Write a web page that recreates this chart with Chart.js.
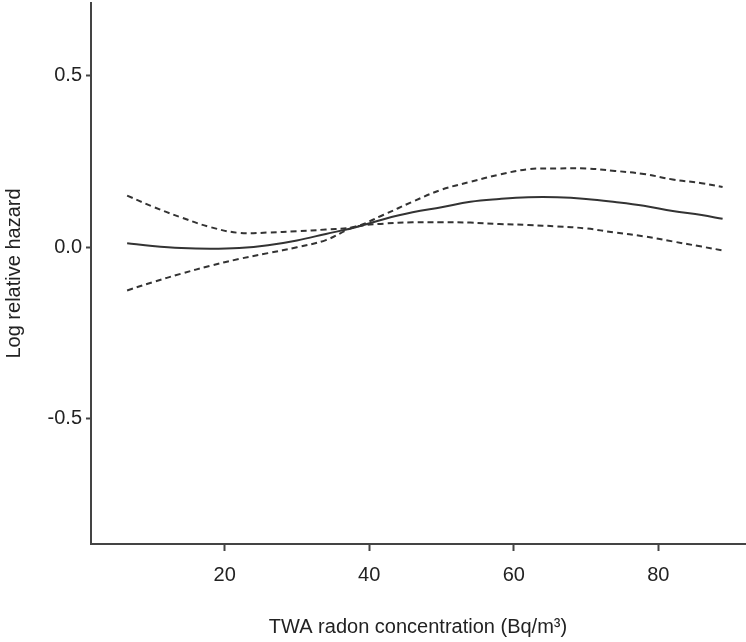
<!DOCTYPE html>
<html>
<head>
<meta charset="utf-8">
<script src="https://cdn.jsdelivr.net/npm/chart.js@4"></script>
<style>
  body { margin: 0; background: #fff; }
  #chart { display: block; }
</style>
</head>
<body>
<canvas id="chart" width="746" height="642"></canvas>
<script>
// radon concentration (Bq/m3)
const radon = [6.5, 10, 14, 18, 22, 26, 30, 34, 38, 42, 46, 50, 54, 58, 62, 66, 70, 74, 78, 82, 86, 88.9];
// log relative hazard, fitted curve
const estimate = [0.012, 0.004, -0.002, -0.004, -0.002, 0.006, 0.020, 0.039, 0.058, 0.082, 0.102, 0.117,
                  0.133, 0.141, 0.146, 0.146, 0.141, 0.132, 0.121, 0.106, 0.094, 0.083];
// upper and lower confidence limits
const upper = [0.151, 0.119, 0.087, 0.059, 0.042, 0.043, 0.047, 0.052, 0.060, 0.095, 0.133, 0.168,
               0.191, 0.212, 0.228, 0.230, 0.230, 0.223, 0.214, 0.198, 0.187, 0.176];
const lower = [-0.126, -0.102, -0.077, -0.054, -0.034, -0.017, 0.000, 0.021, 0.059, 0.069, 0.073, 0.073,
               0.072, 0.068, 0.065, 0.061, 0.055, 0.043, 0.032, 0.017, 0.002, -0.009];

const xTicks = [20, 40, 60, 80];
const yTicks = [-0.5, 0.0, 0.5];

const ink = '#333';
const axisInk = '#444';
const font = { family: "'Liberation Sans', Arial, sans-serif", size: 20 };

function toPoints(ys) {
    return radon.map((x, i) => ({ x: x, y: ys[i] }));
}

function lineSet(label, ys, dash) {
    return {
        label: label,
        data: toPoints(ys),
        borderColor: ink,
        borderWidth: 2,
        borderDash: dash,
        pointRadius: 0,
        tension: 0.4,
        fill: false
    };
}

const ctx = document.getElementById('chart').getContext('2d');

new Chart(ctx, {
    type: 'line',
    data: {
        datasets: [
            lineSet('Estimate', estimate, []),
            lineSet('Upper', upper, [6, 4]),
            lineSet('Lower', lower, [6, 4])
        ]
    },
    options: {
        responsive: false,
        animation: false,
        layout: { padding: { top: 3, right: 1, left: 0, bottom: 0 } },
        plugins: {
            legend: { display: false },
            tooltip: { enabled: false }
        },
        scales: {
            x: {
                type: 'linear',
                min: 1.5,
                max: 92,
                afterBuildTicks: scale => { scale.ticks = xTicks.map(v => ({ value: v })); },
                afterFit: scale => { scale.height = 98; scale.paddingLeft = 0; scale.paddingRight = 0; },
                grid: { drawOnChartArea: false, drawTicks: true, tickLength: 7, tickColor: axisInk, tickWidth: 2 },
                border: { display: true, color: axisInk, width: 2 },
                ticks: { color: '#222', font: font, padding: 12, maxRotation: 0 },
                title: {
                    display: true,
                    text: 'TWA radon concentration (Bq/m³)',
                    color: '#222',
                    font: font,
                    padding: { top: 0, bottom: 3 }
                }
            },
            y: {
                type: 'linear',
                min: -0.866,
                max: 0.713,
                afterBuildTicks: scale => { scale.ticks = yTicks.map(v => ({ value: v })); },
                afterFit: scale => { scale.width = 91; scale.paddingTop = 0; scale.paddingBottom = 0; },
                grid: { drawOnChartArea: false, drawTicks: true, tickLength: 5, tickColor: axisInk, tickWidth: 2 },
                border: { display: true, color: axisInk, width: 2 },
                ticks: {
                    color: '#222',
                    font: font,
                    padding: 4,
                    callback: v => v.toFixed(1)
                },
                title: {
                    display: true,
                    text: 'Log relative hazard',
                    color: '#222',
                    font: font,
                    padding: { top: 2, bottom: 0 }
                }
            }
        }
    }
});
</script>
</body>
</html>
